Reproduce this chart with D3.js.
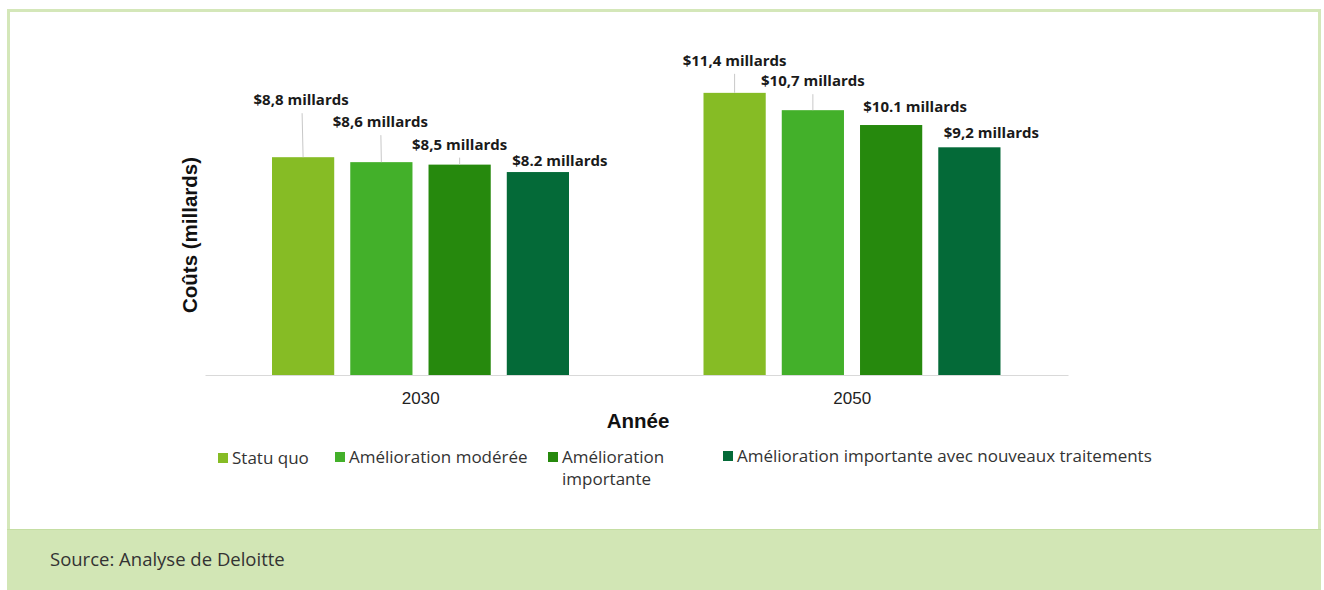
<!DOCTYPE html>
<html>
<head>
<meta charset="utf-8">
<script src="https://cdn.jsdelivr.net/npm/d3@7"></script>
<style>
  html, body { margin: 0; padding: 0; background: #ffffff; }
  svg { display: block; }
</style>
</head>
<body>
<svg id="chart" width="1324" height="590"></svg>
<script>
// Coûts projetés par scénario (milliards $)
const years = ["2030", "2050"];
const seriesNames = [
  "Statu quo",
  "Amélioration modérée",
  "Amélioration importante",
  "Amélioration importante avec nouveaux traitements"
];
const statuQuo = [8.8, 11.4];
const moderee = [8.6, 10.7];
const importante = [8.5, 10.1];
const nouveauxTraitements = [8.2, 9.2];
const valueLabels = [
  ["$8,8 millards", "$11,4 millards"],
  ["$8,6 millards", "$10,7 millards"],
  ["$8,5 millards", "$10.1 millards"],
  ["$8.2 millards", "$9,2 millards"]
];
const seriesValues = [statuQuo, moderee, importante, nouveauxTraitements];
const colors = ["#86bc25", "#43b02a", "#26890d", "#046a38"];

// label placement: [dx from bar centre, lift above bar top] per series, per year
const labelPlacement = [
  [[-2, 52], [0, 27]],
  [[-1, 35], [0, 24]],
  [[0, 15], [24, 13]],
  [[22, 6], [22, 9]]
];

const svg = d3.select("#chart");

// panel frame and source band
svg.append("rect").attr("x", 8.5).attr("y", 10.5).attr("width", 1311).attr("height", 578)
  .attr("fill", "#ffffff").attr("stroke", "#d4e7b9").attr("stroke-width", 3);
svg.append("rect").attr("x", 7).attr("y", 529).attr("width", 1314).attr("height", 61)
  .attr("fill", "#d2e6b5");
svg.append("line").attr("x1", 7).attr("x2", 1321).attr("y1", 529.5).attr("y2", 529.5)
  .attr("stroke", "#c5dea3").attr("stroke-width", 1);
svg.append("text").attr("x", 50).attr("y", 566)
  .attr("font-family", "'Open Sans', sans-serif").attr("font-size", 18.5)
  .attr("fill", "#333333").text("Source: Analyse de Deloitte");

// scales
const baseY = 375;
const x0 = d3.scaleBand().domain(years).range([205, 1068]).paddingInner(0).paddingOuter(0);
const x1 = d3.scaleBand().domain(d3.range(seriesNames.length)).range([67, 364]).paddingInner(0.205).paddingOuter(0);
const y = d3.scaleLinear().domain([0, 10]).range([baseY, baseY - 247.5]);

const g = svg.append("g");

// bars
seriesValues.forEach((vals, si) => {
  g.selectAll(null).data(vals).enter().append("rect")
    .attr("x", (d, i) => x0(years[i]) + x1(si))
    .attr("y", d => y(d))
    .attr("width", x1.bandwidth())
    .attr("height", d => baseY - y(d))
    .attr("fill", colors[si]);
});

// baseline axis
const xAxis = d3.axisBottom(x0).tickSize(0).tickPadding(17);
const axisG = g.append("g").attr("transform", `translate(0,${baseY})`).call(xAxis);
axisG.select(".domain").attr("stroke", "#d9d9d9").attr("stroke-width", 1);
axisG.selectAll("text")
  .attr("font-family", "'Liberation Sans', Arial, sans-serif")
  .attr("font-size", 17).attr("fill", "#222222");

// value labels with leader lines
seriesValues.forEach((vals, si) => {
  vals.forEach((v, i) => {
    const cx = x0(years[i]) + x1(si) + x1.bandwidth() / 2;
    const [dx, lift] = labelPlacement[si][i];
    const top = y(v);
    const ty = top - lift;
    if (lift > 14) {
      g.append("line")
        .attr("x1", cx + dx / 2).attr("x2", cx)
        .attr("y1", ty + 8).attr("y2", top)
        .attr("stroke", "#c8c8c8").attr("stroke-width", 1);
    }
    g.append("text")
      .attr("x", cx + dx).attr("y", ty)
      .attr("text-anchor", "middle")
      .attr("font-family", "'Open Sans', sans-serif").attr("font-weight", 700)
      .attr("font-size", 15).attr("fill", "#1a1a1a")
      .text(valueLabels[si][i]);
  });
});

// axis titles
g.append("text")
  .attr("transform", "translate(197,235) rotate(-90)")
  .attr("text-anchor", "middle")
  .attr("font-family", "'Liberation Sans', Arial, sans-serif").attr("font-weight", 700)
  .attr("font-size", 20.5).attr("fill", "#111111")
  .text("Coûts (millards)");
g.append("text")
  .attr("x", 638).attr("y", 428)
  .attr("text-anchor", "middle")
  .attr("font-family", "'Liberation Sans', Arial, sans-serif").attr("font-weight", 700)
  .attr("font-size", 20.5).attr("fill", "#111111")
  .text("Année");

// legend
const legendItems = [
  { x: 218, y: 453, lines: ["Statu quo"] },
  { x: 335, y: 452, lines: ["Amélioration modérée"] },
  { x: 548, y: 452, lines: ["Amélioration", "importante"] },
  { x: 723, y: 451, lines: ["Amélioration importante avec nouveaux traitements"] }
];
const leg = svg.append("g");
legendItems.forEach((it, si) => {
  leg.append("rect").attr("x", it.x).attr("y", it.y).attr("width", 10).attr("height", 10)
    .attr("fill", colors[si]);
  const t = leg.append("text")
    .attr("font-family", "'Open Sans', sans-serif").attr("font-size", 17)
    .attr("fill", "#333333");
  it.lines.forEach((ln, li) => {
    t.append("tspan").attr("x", it.x + 14).attr("y", it.y + 11 + li * 22).text(ln);
  });
});
</script>
</body>
</html>
